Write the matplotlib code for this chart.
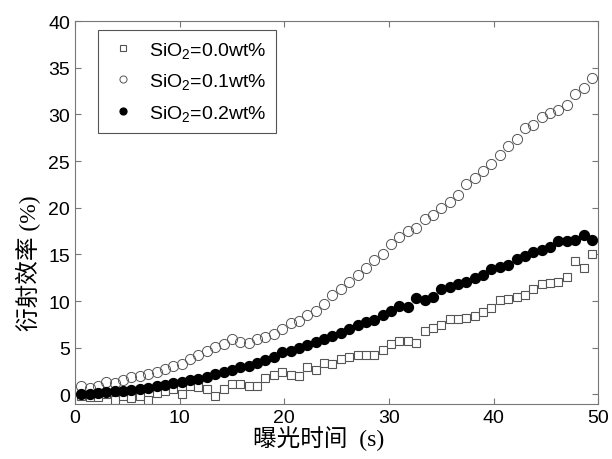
import matplotlib.pyplot as plt

plt.rcParams['font.family'] = ['Liberation Sans', 'Noto Sans CJK SC', 'DejaVu Sans']
plt.rcParams['mathtext.default'] = 'regular'

# Exposure time (s), same grid for all three samples
time_s = [0.6, 1.4, 2.2, 3.0, 3.8, 4.6, 5.4, 6.2, 7.0, 7.8,
          8.6, 9.4, 10.2, 11.0, 11.8, 12.6, 13.4, 14.2, 15.0, 15.8,
          16.6, 17.4, 18.2, 19.0, 19.8, 20.6, 21.4, 22.2, 23.0, 23.8,
          24.6, 25.4, 26.2, 27.0, 27.8, 28.6, 29.4, 30.2, 31.0, 31.8,
          32.6, 33.4, 34.2, 35.0, 35.8, 36.6, 37.4, 38.2, 39.0, 39.8,
          40.6, 41.4, 42.2, 43.0, 43.8, 44.6, 45.4, 46.2, 47.0, 47.8,
          48.6, 49.4]

# Diffraction efficiency (%) for each SiO2 content
eff_00 = [-0.18, -0.25, -0.25, 0.0, -0.54, -0.18, -0.36, -0.18, -0.54, 0.18,
          0.36, 0.54, 0.1, 0.89, 0.82, 0.54, -0.18, 0.54, 1.07, 1.07,
          0.96, 0.89, 1.79, 2.04, 2.39, 2.04, 1.96, 2.96, 2.61, 3.39,
          3.3, 3.75, 4.04, 4.25, 4.25, 4.25, 4.75, 5.36, 5.7, 5.7,
          5.54, 6.75, 7.14, 7.39, 8.1, 8.1, 8.2, 8.4, 8.8, 9.3,
          10.1, 10.25, 10.4, 10.7, 11.3, 11.8, 11.9, 12.1, 12.6, 14.3,
          13.6, 15.1]
eff_01 = [0.89, 0.71, 0.96, 1.32, 1.18, 1.5, 1.86, 1.96, 2.14, 2.39,
          2.75, 3.04, 3.29, 3.75, 4.18, 4.64, 5.07, 5.36, 5.9, 5.6,
          5.54, 5.9, 6.18, 6.43, 6.97, 7.68, 7.86, 8.47, 8.93, 9.7,
          10.7, 11.25, 12.0, 12.8, 13.6, 14.4, 15.1, 16.1, 16.9, 17.5,
          17.8, 18.8, 19.2, 20.0, 20.6, 21.4, 22.5, 23.2, 23.9, 24.7,
          25.6, 26.6, 27.4, 28.5, 28.9, 29.7, 30.2, 30.5, 31.0, 32.2,
          32.8, 33.9]
eff_02 = [0.1, 0.1, 0.15, 0.3, 0.35, 0.4, 0.5, 0.6, 0.7, 0.9,
          1.0, 1.2, 1.3, 1.5, 1.7, 1.9, 2.2, 2.4, 2.6, 2.9,
          3.1, 3.4, 3.7, 4.0, 4.5, 4.7, 5.0, 5.3, 5.6, 5.9,
          6.3, 6.6, 7.0, 7.4, 7.8, 8.0, 8.5, 8.9, 9.5, 9.4,
          10.3, 10.1, 10.4, 11.25, 11.5, 11.8, 12.1, 12.5, 12.75, 13.4,
          13.7, 13.9, 14.5, 14.8, 15.25, 15.5, 15.8, 16.4, 16.4, 16.6,
          17.1, 16.5]

labels = ['SiO$_2$=0.0wt%', 'SiO$_2$=0.1wt%', 'SiO$_2$=0.2wt%']

fig = plt.figure(figsize=(6.12, 4.6), dpi=100)
ax = fig.add_axes([0.1225, 0.12, 0.855, 0.832])

ax.plot(time_s, eff_00, 's', ms=6.2, mfc='white', mec='#555555', mew=0.8, label=labels[0])
ax.plot(time_s, eff_01, 'o', ms=7.3, mfc='none', mec='#555555', mew=0.7, label=labels[1])
ax.plot(time_s, eff_02, 'o', ms=7.3, mfc='black', mec='black', mew=0.8, label=labels[2])

ax.set_xlim(0, 50)
ax.set_ylim(-1, 40)
ax.set_xticks(range(0, 51, 10))
ax.set_yticks(range(0, 41, 5))
ax.tick_params(direction='in', top=True, right=True, labelsize=14, color='#777777', length=4)
for s in ax.spines.values():
    s.set_color('#777777')

label_font = ['Liberation Serif', 'Noto Sans CJK SC', 'DejaVu Sans']
ax.set_xlabel('曝光时间  (s)', fontsize=17, family=label_font)
ax.set_ylabel('衍射效率 (%)', fontsize=17, family=label_font)
ax.xaxis.set_label_coords(0.465, -0.055)
ax.yaxis.set_label_coords(-0.065, 0.37)

leg = ax.legend(loc='upper left', bbox_to_anchor=(0.044, 0.977), borderaxespad=0,
                fontsize=14, fancybox=False, framealpha=1, handletextpad=0.5,
                labelspacing=0.6, handlelength=1.6, markerscale=0.7,
                borderpad=0.5)
leg.get_frame().set_edgecolor('#555555')
leg.get_frame().set_linewidth(0.8)

fig.savefig('out.png', dpi=100)
